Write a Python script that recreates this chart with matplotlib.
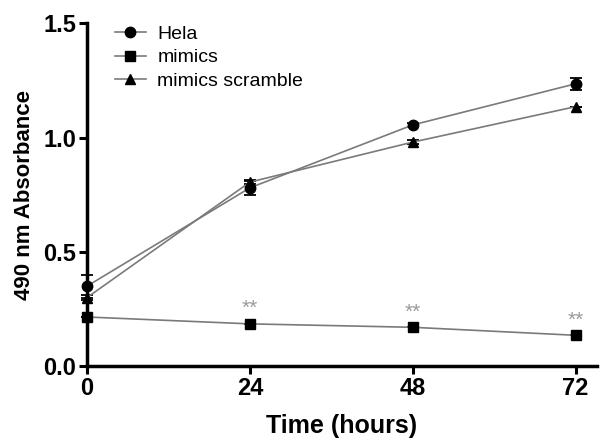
import numpy as np
import matplotlib.pyplot as plt

plt.rcParams['font.family'] = ['Liberation Sans', 'DejaVu Sans']

hours = [0, 24, 48, 72]
hela = [0.35, 0.78, 1.055, 1.235]
hela_err = [0.05, 0.03, 0.01, 0.025]
mimics = [0.215, 0.185, 0.17, 0.135]
mimics_err = [0.0, 0.0, 0.0, 0.0]
scramble = [0.30, 0.805, 0.98, 1.135]
scramble_err = [0.01, 0.01, 0.01, 0.0]
star_hours = [24, 48, 72]
star_labels = ['**', '**', '**']

fig = plt.figure(figsize=(6.01, 4.46), dpi=100)
ax = fig.add_axes([0.1448, 0.179, 0.848, 0.769])

line_c = '#7a7a7a'
series = [
    (hela, hela_err, 'o', 'Hela'),
    (mimics, mimics_err, 's', 'mimics'),
    (scramble, scramble_err, '^', 'mimics scramble'),
]
for vals, err, mk, lab in series:
    ax.errorbar(hours, vals, yerr=err, fmt='none', ecolor='black',
                elinewidth=1.3, capsize=4, capthick=1.3, clip_on=False,
                zorder=2)
    ax.plot(hours, vals, color=line_c, lw=1.2, marker=mk, ms=7.5,
            mfc='black', mec='black', label=lab, clip_on=False, zorder=3)

for h, txt in zip(star_hours, star_labels):
    i = hours.index(h)
    ax.text(h, mimics[i] + 0.025, txt, ha='center', va='bottom',
            fontsize=15, color='#9a9a9a')

ax.set_xlim(0, 75.1)
ax.set_ylim(0, 1.5)
ax.set_xticks(hours)
ax.set_yticks([0.0, 0.5, 1.0, 1.5])
ax.set_yticklabels(['0.0', '0.5', '1.0', '1.5'])
for s in ['top', 'right']:
    ax.spines[s].set_visible(False)
for s in ['left', 'bottom']:
    ax.spines[s].set_linewidth(2.5)
ax.tick_params(width=2.2, length=6, labelsize=17, direction='out', pad=2)
for lbl in ax.get_xticklabels() + ax.get_yticklabels():
    lbl.set_fontweight('bold')

ax.set_xlabel('Time (hours)', fontsize=18, fontweight='bold', labelpad=10)
ax.set_ylabel('490 nm Absorbance', fontsize=16, fontweight='bold', labelpad=6)

leg = ax.legend(loc='upper left', bbox_to_anchor=(0.02, 1.045), frameon=False,
                fontsize=14, handlelength=1.6, handletextpad=0.6,
                labelspacing=0.3)

fig.savefig('out.png', dpi=100)
